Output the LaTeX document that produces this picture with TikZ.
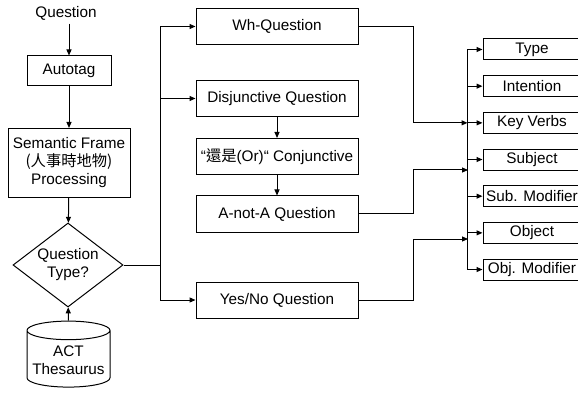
\documentclass[tikz,border=0pt]{standalone}
\usepackage{fontspec}
\setmainfont{Liberation Sans}
\newfontfamily\cjk{Noto Sans CJK TC}
\usetikzlibrary{shapes.geometric,arrows.meta}

\tikzset{
  every node/.style={font=\fontsize{15.3}{18}\selectfont},
  box/.style={draw, line width=1pt, minimum width=162pt, minimum height=36pt, inner sep=0pt},
  slot/.style={draw, line width=1pt, minimum width=98pt, minimum height=21pt, inner sep=0pt},
  arr/.style={-{Triangle[length=6pt,width=5pt]}, line width=1pt},
  wire/.style={line width=1pt}
}

\begin{document}
\begin{tikzpicture}[x=1pt,y=-1pt]
	% Define the page
	\useasboundingbox (0,0) rectangle (578,398);
	% Left column
	\node (q) at (66,13) {Question};
	\node[draw, line width=1pt, minimum width=84pt, minimum height=30pt] (tag) at (69,71) {Autotag};
	\node[draw, line width=1pt, minimum width=122pt, minimum height=69pt, inner sep=0pt, align=center] (sem) at (69,163) {Semantic Frame\\{\cjk (人事時地物)}\\Processing};
	\node[draw, diamond, aspect=1.31, line width=1pt, minimum width=110pt, minimum height=84pt, inner sep=0pt, align=center] (qt) at (68,265) {Question\\Type?};
	\node[draw, cylinder, shape border rotate=90, aspect=0.25, line width=1pt, minimum width=83pt, minimum height=66pt, inner sep=1pt, align=center] (act) at (68.5,360) {ACT\\Thesaurus};
	\draw[arr] (tag.north |- q.south) -- (tag);
	\draw[arr] (tag) -- (sem);
	\draw[arr] (sem) -- (qt);
	\draw[arr] (act) -- (qt);
	% Question types
	\node[box] (wh) at (277,26.5) {Wh-Question};
	\node[box] (dis) at (277,98.5) {Disjunctive Question};
	\node[box] (conj) at (277,156.5) {“{\cjk 還是}(Or)“ Conjunctive};
	\node[box] (anot) at (277,214) {A-not-A Question};
	\node[box] (yn) at (277,300) {Yes/No Question};
	\coordinate (split) at (160,265);
	\draw[wire] (qt.east) -- (split);
	\draw[arr] (split) |- (wh);
	\draw[arr] (split) |- (dis);
	\draw[arr] (split) |- (yn);
	\draw[arr] (dis) -- (conj);
	\draw[arr] (conj) -- (anot);
	% Frame slots
	\foreach \t [count=\i] in {Type, Intention, Key Verbs, Subject, Sub. Modifier, Object, Obj. Modifier}
		\node[slot] (s\i) at (532,{49.5+36.67*(\i-1)}) {\t};
	\draw[wire] ([xshift=-15pt]s1.west) -- ([xshift=-15pt]s7.west);
	\foreach \i in {1,...,7}
		\draw[arr] ([xshift=-15pt]s\i.west) -- (s\i.west);
	\coordinate (in1) at ([xshift=-15pt]s3.west);
	\coordinate (in2) at (468,170);
	\coordinate (in3) at (468,239);
	\draw[arr] (wh.east) -- ++(55,0) |- (in1);
	\draw[arr] (anot.east) -- ++(55,0) |- (in2);
	\draw[arr] (yn.east) -- ++(55,0) |- (in3);
\end{tikzpicture}
\end{document}
